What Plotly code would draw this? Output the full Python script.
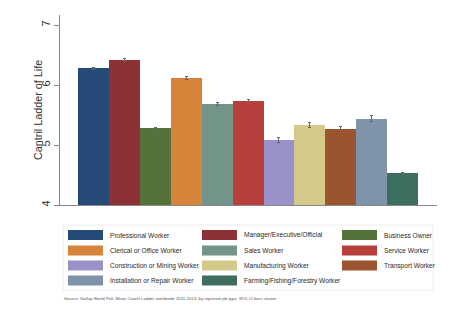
import plotly.graph_objects as go

categories = ["Professional Worker", "Manager/Executive/Official", "Business Owner",
              "Clerical or Office Worker", "Sales Worker", "Service Worker",
              "Construction or Mining Worker", "Manufacturing Worker", "Transport Worker",
              "Installation or Repair Worker", "Farming/Fishing/Forestry Worker"]
values = [6.28, 6.42, 5.28, 6.12, 5.68, 5.74, 5.08, 5.34, 5.27, 5.44, 4.53]
ci = [0.015, 0.03, 0.02, 0.02, 0.025, 0.02, 0.04, 0.04, 0.04, 0.05, 0.015]
colors = ["#254a78", "#8c3237", "#54733a", "#d6843c", "#73948a", "#b7403d",
          "#9b91c9", "#d2c98a", "#9a5430", "#7f93ab", "#3e6e5f"]
y_ticks = [4, 5, 6, 7]
y_title = "Cantril Ladder of Life"
source_text = ("Source: Gallup World Poll. Mean Cantril Ladder worldwide 2011-2013, "
               "by reported job type. 95% CI bars shown.")

W, H = 468, 322
L, R, T, B = 60, 437, 15, 205

fig = go.Figure()
fig.add_trace(go.Bar(
    x=list(range(len(categories))), y=values, width=1.0,
    marker=dict(color=colors, line=dict(width=0)),
    error_y=dict(type="data", array=ci, color="#666666", thickness=1, width=1.5),
    showlegend=False,
))

def px_to_paper(px, py):
    return (px - L) / (R - L), (B - py) / (B - T)

shapes = []
annotations = []
col_swatch_x = [68, 202, 342]
row_y = [235, 250.5, 265.5, 280.5]
for i, (name, c) in enumerate(zip(categories, colors)):
    r, cidx = divmod(i, 3)
    sx = col_swatch_x[cidx]
    cy = row_y[r]
    x0, y0 = px_to_paper(sx, cy - 5)
    x1, y1 = px_to_paper(sx + 35, cy + 5)
    shapes.append(dict(type="rect", xref="paper", yref="paper", x0=x0, x1=x1, y0=y1, y1=y0,
                       fillcolor=c, line=dict(width=0)))
    tx, ty = px_to_paper(sx + 40, cy)
    annotations.append(dict(xref="paper", yref="paper", x=tx, y=ty, text=name, showarrow=False,
                            xanchor="left", yanchor="middle",
                            font=dict(size=6.6, color="#2a2a2a", family="Liberation Sans, Arial")))

bx0, by0 = px_to_paper(63, 225)
bx1, by1 = px_to_paper(433, 290)
shapes.insert(0, dict(type="rect", xref="paper", yref="paper", x0=bx0, x1=bx1, y0=by1, y1=by0,
                      line=dict(color="#eeeeee", width=1), fillcolor="rgba(0,0,0,0)"))
sx_, sy_ = px_to_paper(62, 298)
annotations.append(dict(xref="paper", yref="paper", x=sx_, y=sy_, text=source_text, showarrow=False,
                        xanchor="left", yanchor="middle",
                        font=dict(size=4.3, color="#555555", family="Liberation Sans, Arial")))
tx_, ty_ = px_to_paper(38, 110)
annotations.append(dict(xref="paper", yref="paper", x=tx_, y=ty_, text=y_title, showarrow=False,
                        textangle=-90, xanchor="center", yanchor="middle",
                        font=dict(size=10.8, color="#333333", family="Liberation Sans, Arial")))

fig.update_layout(
    width=W, height=H,
    margin=dict(l=L, r=W - R, t=T, b=H - B, pad=0),
    paper_bgcolor="white", plot_bgcolor="white",
    bargap=0,
    shapes=shapes, annotations=annotations,
    font=dict(family="Liberation Sans, Arial", color="#333333"),
    xaxis=dict(range=[-1.08, 11.11], showticklabels=False, ticks="", showgrid=False,
               zeroline=False, showline=True, linecolor="#888888", linewidth=1, fixedrange=True),
    yaxis=dict(range=[4, 4 + (B - T) / 60], tickvals=y_ticks, ticktext=[str(v) for v in y_ticks],
               tickangle=-90, ticks="outside", ticklen=5, tickcolor="#888888",
               showgrid=False, zeroline=False, showline=True, linecolor="#888888", linewidth=1,
               tickfont=dict(size=11, color="#333333")),
)

fig.write_html("out.html")
